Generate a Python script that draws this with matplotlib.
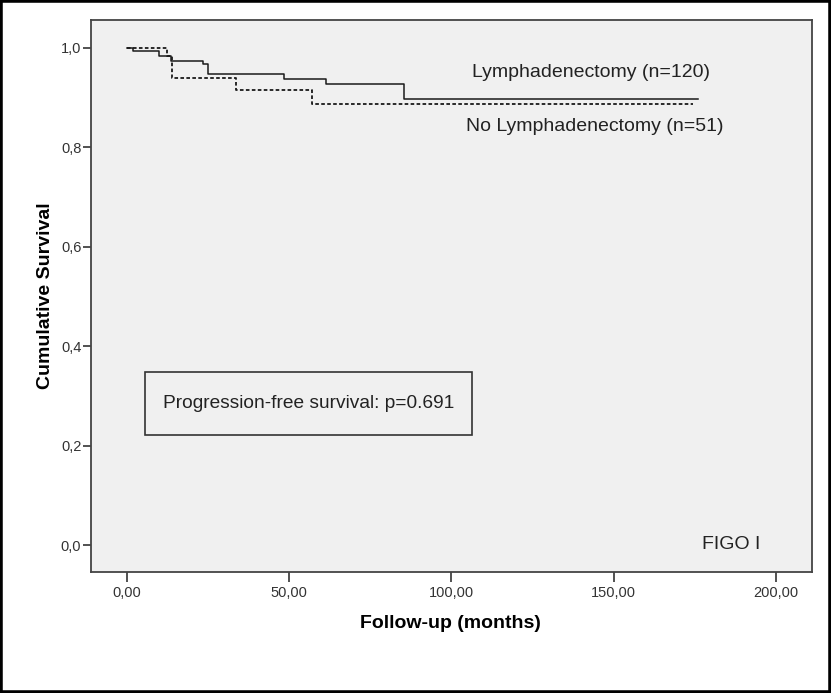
import matplotlib
matplotlib.use("Agg")
import matplotlib.pyplot as plt
from matplotlib.patches import Rectangle
from matplotlib.ticker import FuncFormatter

# Kaplan-Meier steps (months, cumulative survival)
lymph_months = [0, 2, 10, 13.7, 23.4, 25, 48.5, 61.4, 85.5, 176]
lymph_surv = [1.0, 0.993, 0.984, 0.974, 0.967, 0.948, 0.937, 0.927, 0.897, 0.897]

nolymph_months = [0, 12.3, 14, 33.7, 57, 174.5]
nolymph_surv = [1.0, 0.984, 0.939, 0.915, 0.887, 0.887]

x_ticks = [0, 50, 100, 150, 200]
y_ticks = [0.0, 0.2, 0.4, 0.6, 0.8, 1.0]

plt.rcParams['font.family'] = ['Liberation Sans', 'DejaVu Sans']

fig = plt.figure(figsize=(8.31, 6.93), dpi=100)
ax = fig.add_axes([0.1095, 0.1746, 0.8676, 0.7965])
ax.set_facecolor('#f0f0f0')

ax.plot(lymph_months, lymph_surv, drawstyle='steps-post', color='#1a1a1a', linewidth=1.1)
ax.plot(nolymph_months, nolymph_surv, drawstyle='steps-post', color='#1a1a1a',
        linewidth=1.3, linestyle=(0, (2.0, 1.3)))

ax.set_xlim(-11, 211)
ax.set_ylim(-0.054, 1.056)
ax.set_xticks(x_ticks)
ax.set_yticks(y_ticks)
ax.xaxis.set_major_formatter(FuncFormatter(lambda v, p: f"{v:.2f}".replace('.', ',')))
ax.yaxis.set_major_formatter(FuncFormatter(lambda v, p: f"{v:.1f}".replace('.', ',')))
ax.tick_params(axis='x', length=7, width=1.2, pad=3, labelsize=10.5, colors='#333333')
ax.tick_params(axis='y', length=6, width=1.2, pad=1, labelsize=10.5, colors='#333333')
for s in ax.spines.values():
    s.set_color('#444444')
    s.set_linewidth(1.3)

ax.set_xlabel('Follow-up (months)', fontsize=14, fontweight='bold')
ax.set_ylabel('Cumulative Survival', fontsize=14, fontweight='bold')
ax.xaxis.set_label_coords(0.4985, -0.078)
ax.yaxis.set_label_coords(-0.051, 0.5)

ax.text(143, 0.950, 'Lymphadenectomy (n=120)', fontsize=14, ha='center', va='center', color='#222222')
ax.text(144, 0.841, 'No Lymphadenectomy (n=51)', fontsize=14, ha='center', va='center', color='#222222')
ax.text(186, 0.002, 'FIGO I', fontsize=14, ha='center', va='center', color='#222222')

# p-value box
ax.add_patch(Rectangle((5.6, 0.221), 100.7, 0.128, fill=False, edgecolor='#333333', linewidth=1.2))
ax.text(56, 0.285, 'Progression-free survival: p=0.691', fontsize=13.8, ha='center', va='center',
        color='#222222')

# black frame round the whole picture
fig.patches.append(Rectangle((0, 0), 1, 1, transform=fig.transFigure, fill=False,
                             edgecolor='black', linewidth=4))

fig.savefig('out.png', dpi=100)
